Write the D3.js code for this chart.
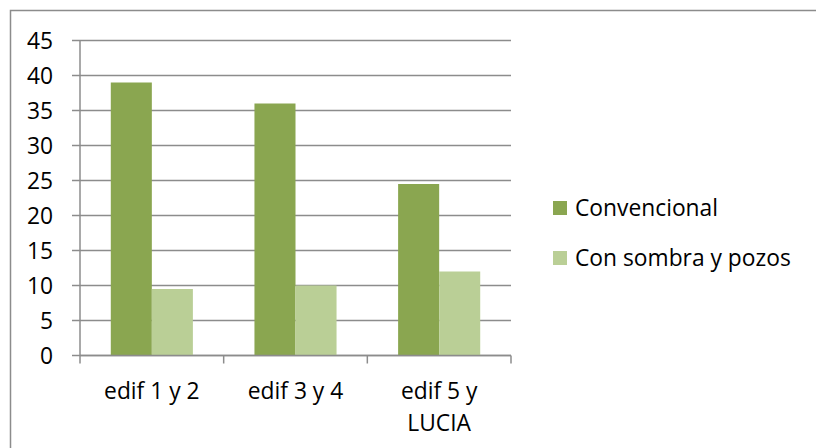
<!DOCTYPE html>
<html><head><meta charset="utf-8">
<script src="https://cdn.jsdelivr.net/npm/d3@7"></script>
<style>body{margin:0;background:#fff}</style>
</head><body>
<svg id="c" width="816" height="448"></svg>
<script>
const categories = [["edif 1 y 2"], ["edif 3 y 4"], ["edif 5 y", "LUCIA"]];
const seriesNames = ["Convencional", "Con sombra y pozos"];
const convencional = [39, 36, 24.5];
const conSombra = [9.5, 10, 12];
const yTicks = [0, 5, 10, 15, 20, 25, 30, 35, 40, 45];
const colors = ["#8aa650", "#bacf96"];
const font = "'Open Sans', sans-serif";
const fs = 22.8;

const svg = d3.select("#c");
svg.append("rect").attr("x", 10.5).attr("y", 10.5).attr("width", 830).attr("height", 460)
  .attr("fill", "#fff").attr("stroke", "#8c8c8c").attr("stroke-width", 1.5);

const L = 80, R = 511, T = 40.5, B = 355.5;
const y = d3.scaleLinear().domain([0, 45]).range([B, T]);
const keys = categories.map((c, i) => i);
const x0 = d3.scaleBand().domain(keys).range([L, R]).paddingInner(0).paddingOuter(0);
const bw = x0.bandwidth() / 3.5;
const x1 = d3.scaleBand().domain([0, 1]).range([0.75 * bw, 2.75 * bw]);

const g = svg.append("g");
g.selectAll("line.grid").data(yTicks).join("line")
  .attr("x1", L - 8).attr("x2", R).attr("y1", d => y(d)).attr("y2", d => y(d))
  .attr("stroke", "#8c8c8c").attr("stroke-width", 1.5);
g.append("line").attr("x1", L).attr("x2", L).attr("y1", T).attr("y2", B)
  .attr("stroke", "#8c8c8c").attr("stroke-width", 1.5);
g.selectAll("text.yl").data(yTicks).join("text")
  .attr("x", 53).attr("y", d => y(d)).attr("dy", "0.36em")
  .attr("text-anchor", "end").attr("font-family", font).attr("font-size", fs)
  .attr("fill", "#000").text(d => d);

const series = [convencional, conSombra];
series.forEach((vals, si) => {
  g.selectAll("rect.s" + si).data(vals).join("rect")
    .attr("x", (d, i) => x0(i) + x1(si)).attr("width", x1.bandwidth())
    .attr("y", d => y(d)).attr("height", d => y(0) - y(d))
    .attr("fill", colors[si]);
});

g.append("line").attr("x1", L).attr("x2", R).attr("y1", B).attr("y2", B)
  .attr("stroke", "#8c8c8c").attr("stroke-width", 1.5);
const ticksX = keys.map(k => x0(k)).concat([R]);
g.selectAll("line.xt").data(ticksX).join("line")
  .attr("x1", d => d).attr("x2", d => d).attr("y1", B).attr("y2", B + 8)
  .attr("stroke", "#8c8c8c").attr("stroke-width", 1.5);
categories.forEach((lines, i) => {
  const t = g.append("text").attr("text-anchor", "middle").attr("font-family", font)
    .attr("font-size", fs).attr("fill", "#000");
  lines.forEach((ln, j) => {
    t.append("tspan").attr("x", x0(i) + x0.bandwidth() / 2).attr("y", 399 + j * 32).text(ln);
  });
});

seriesNames.forEach((n, i) => {
  const ly = 208 + i * 50;
  svg.append("rect").attr("x", 553).attr("y", ly - 7).attr("width", 14).attr("height", 14).attr("fill", colors[i]);
  svg.append("text").attr("x", 575).attr("y", ly).attr("dy", "0.36em")
    .attr("font-family", font).attr("font-size", fs).attr("fill", "#000").text(n);
});
</script>
</body></html>
